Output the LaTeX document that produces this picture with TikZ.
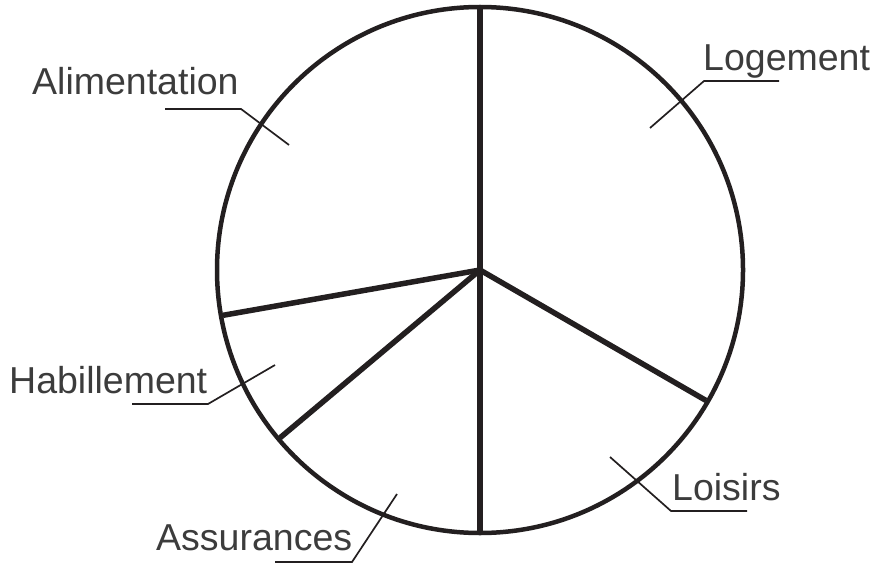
\documentclass[tikz,border=0pt]{standalone}
\usepackage{fontspec}
\setmainfont{Liberation Sans}
\usetikzlibrary{calc}
\definecolor{ink}{RGB}{35,31,32}
\definecolor{txt}{RGB}{60,60,60}
\begin{document}
\begin{tikzpicture}[x=1pt,y=-1pt,
  rim/.style={draw=ink,line width=4.5pt},
  spoke/.style={draw=ink,line width=5.5pt},
  leader/.style={draw=ink,line width=1.7pt},
  lab/.style={anchor=base west,inner sep=0pt,text=txt,font=\fontsize{37.5}{44}\selectfont}]
\useasboundingbox (0,0) rectangle (874,564);
\coordinate (c) at (480,270);
\def\R{263}
\def\Rs{261}
% spoke ends (angles measured with y pointing down)
\coordinate (sptop) at ($(c)+(-90:\Rs)$);
\coordinate (spbot) at ($(c)+(90:\Rs)$);
\coordinate (spr)   at ($(c)+(30:\Rs)$);
\coordinate (spl)   at ($(c)+(170:\Rs)$);
\coordinate (spll)  at ($(c)+(140:\Rs)$);
\draw[rim] (c) circle[radius=\R];
\foreach \e in {sptop,spbot,spr,spl,spll}{\draw[spoke] (c) -- (\e);}
% labels
\node[lab] (logement) at (703,71) {Logement};
\node[lab] (alimentation) at (32,95) {Alimentation};
\node[lab] (habillement) at (9,393) {Habillement};
\node[lab] (assurances) at (156,550) {Assurances};
\node[lab] (loisirs) at (672,500) {Loisirs};
% leader lines
\coordinate (ali0) at (165,109); \coordinate (ali1) at (241,109); \coordinate (ali2) at (289,145);
\coordinate (log0) at (779,81); \coordinate (log1) at (704,81); \coordinate (log2) at (650,128);
\coordinate (hab0) at (132,404); \coordinate (hab1) at (208,404); \coordinate (hab2) at (275,365);
\coordinate (ass0) at (275,562); \coordinate (ass1) at (352,562); \coordinate (ass2) at (397,494);
\coordinate (loi0) at (747,511); \coordinate (loi1) at (671,511); \coordinate (loi2) at (610,457);
\draw[leader] (ali0) -- (ali1) -- (ali2);
\draw[leader] (log0) -- (log1) -- (log2);
\draw[leader] (hab0) -- (hab1) -- (hab2);
\draw[leader] (ass0) -- (ass1) -- (ass2);
\draw[leader] (loi0) -- (loi1) -- (loi2);
\end{tikzpicture}
\end{document}
